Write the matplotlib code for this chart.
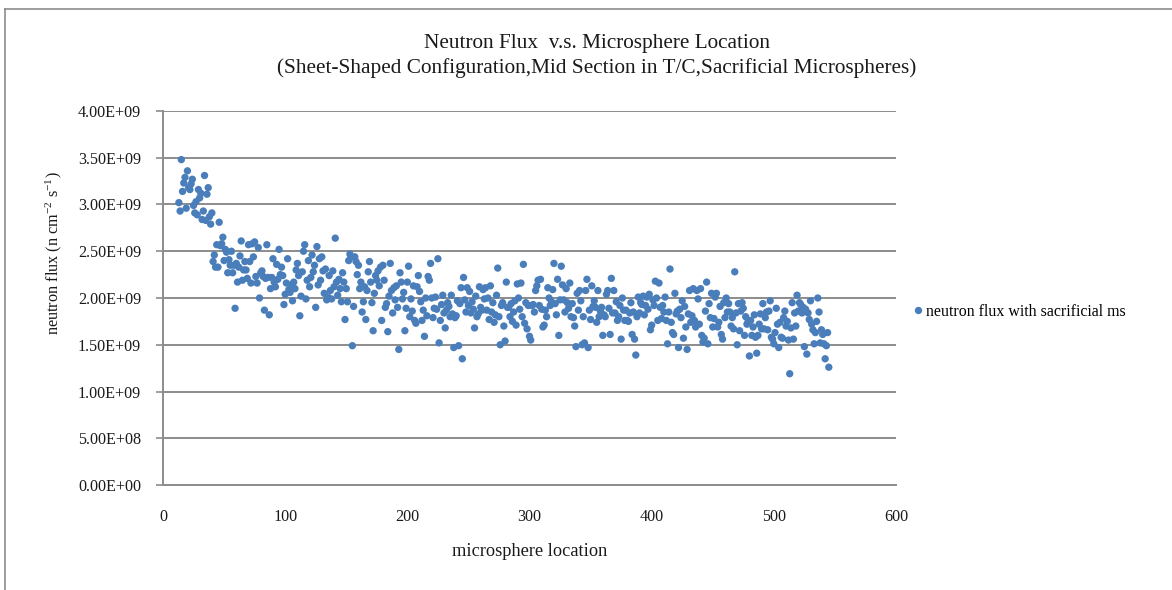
import matplotlib
matplotlib.use("Agg")
import matplotlib.pyplot as plt
from matplotlib.lines import Line2D
from matplotlib.ticker import FuncFormatter, MultipleLocator

plt.rcParams["font.family"] = ["Liberation Serif", "DejaVu Serif"]
plt.rcParams["mathtext.fontset"] = "custom"
plt.rcParams["mathtext.rm"] = "Liberation Serif"
plt.rcParams["mathtext.it"] = "Liberation Serif:italic"

# microsphere locations 13..545
first_location = 13

# neutron flux, in units of 1e9 n cm^-2 s^-1, one value per location
flux_e9 = [
    3.02, 2.93, 3.48, 3.14, 3.23, 3.29, 2.96, 3.36,                # 13-20
    3.18, 3.16, 3.22, 3.27, 2.99, 2.91, 3.03, 2.89, 3.16, 3.07,    # 21-30
    3.12, 2.84, 2.93, 3.31, 2.83, 3.11, 3.18, 2.87, 2.79, 2.91,    # 31-40
    2.39, 2.46, 2.33, 2.57, 2.33, 2.81, 2.56, 2.58, 2.65, 2.40,    # 41-50
    2.52, 2.49, 2.27, 2.41, 2.35, 2.50, 2.27, 2.35, 1.89, 2.37,    # 51-60
    2.17, 2.33, 2.45, 2.61, 2.19, 2.30, 2.39, 2.30, 2.21, 2.57,    # 61-70
    2.39, 2.16, 2.58, 2.44, 2.60, 2.23, 2.16, 2.54, 2.00, 2.27,    # 71-80
    2.29, 2.23, 1.87, 2.21, 2.57, 2.22, 1.82, 2.10, 2.22, 2.42,    # 81-90
    2.17, 2.12, 2.36, 2.20, 2.52, 2.25, 2.33, 2.24, 1.93, 2.04,    # 91-100
    2.16, 2.42, 2.09, 2.06, 2.14, 1.97, 2.17, 2.10, 2.30, 2.37,    # 101-110
    2.24, 1.81, 2.02, 2.28, 2.50, 2.57, 1.99, 2.19, 2.40, 2.12,    # 111-120
    2.22, 2.46, 2.28, 2.35, 1.90, 2.55, 2.14, 2.42, 2.19, 2.44,    # 121-130
    2.29, 2.05, 2.31, 1.98, 2.01, 2.24, 2.08, 1.99, 2.29, 2.12,    # 131-140
    2.64, 2.17, 2.03, 2.20, 2.10, 1.96, 2.27, 2.17, 1.77, 2.10,    # 141-150
    1.96, 2.40, 2.47, 2.44, 1.49, 1.91, 2.44, 2.39, 2.25, 2.35,    # 151-160
    2.10, 2.17, 1.85, 1.96, 2.12, 1.77, 2.08, 2.28, 2.39, 2.17,    # 161-170
    1.95, 1.65, 2.05, 2.24, 2.19, 2.29, 2.13, 2.33, 1.76, 2.35,    # 171-180
    2.19, 1.90, 1.94, 1.64, 2.02, 2.37, 2.08, 1.84, 2.11, 1.98,    # 181-190
    2.13, 1.90, 1.45, 2.27, 2.17, 1.99, 2.06, 1.65, 1.89, 2.17,    # 191-200
    2.34, 1.80, 1.99, 1.86, 2.13, 1.76, 1.73, 2.12, 2.24, 2.07,    # 201-210
    1.96, 1.76, 1.87, 1.59, 2.00, 1.81, 2.23, 2.19, 2.37, 2.00,    # 211-220
    1.79, 1.89, 2.01, 1.88, 2.42, 1.52, 1.76, 1.93, 2.03, 1.84,    # 221-230
    1.68, 1.87, 1.95, 1.91, 1.80, 2.03, 1.83, 1.47, 1.79, 1.81,    # 231-240
    1.97, 1.49, 1.94, 2.11, 1.35, 2.22, 1.98, 1.85, 2.11, 1.92,    # 241-250
    2.07, 1.84, 1.96, 1.88, 1.68, 2.02, 1.80, 1.83, 2.12, 1.90,    # 251-260
    1.87, 2.09, 1.99, 2.11, 1.87, 2.00, 1.77, 2.13, 1.85, 1.95,    # 261-270
    1.74, 1.82, 2.03, 2.32, 1.80, 1.50, 1.92, 1.95, 1.70, 1.54,    # 271-280
    2.17, 1.90, 1.90, 1.80, 1.94, 1.75, 1.85, 1.97, 1.71, 2.15,    # 281-290
    2.00, 1.88, 2.16, 1.80, 2.36, 1.73, 1.95, 1.67, 1.92, 1.59,    # 291-300
    1.55, 1.92, 1.93, 1.85, 2.08, 2.13, 2.19, 1.92, 2.20, 1.88,    # 301-310
    1.69, 1.71, 1.87, 1.80, 2.11, 2.00, 1.92, 1.96, 2.09, 2.37,    # 311-320
    1.94, 1.82, 2.20, 1.60, 1.98, 2.34, 2.14, 1.98, 1.85, 2.10,    # 321-330
    1.95, 1.89, 2.16, 1.80, 1.94, 1.79, 1.70, 1.48, 2.05, 1.87,    # 331-340
    2.08, 1.97, 1.50, 1.80, 1.52, 2.08, 2.20, 1.47, 1.87, 1.77,    # 341-350
    2.13, 1.91, 1.97, 1.90, 1.74, 2.08, 1.80, 1.86, 1.90, 1.60,    # 351-360
    1.82, 1.80, 2.04, 2.08, 1.89, 1.61, 2.21, 1.84, 2.08, 1.84,    # 361-370
    1.96, 1.76, 1.80, 1.92, 1.56, 2.00, 1.87, 1.76, 1.87, 1.76,    # 371-380
    1.75, 1.84, 1.95, 1.61, 1.85, 1.56, 1.39, 1.80, 2.01, 1.84,    # 381-390
    1.95, 1.93, 2.02, 1.82, 1.92, 2.01, 1.88, 2.04, 1.66, 1.71,    # 391-400
    1.98, 1.92, 2.18, 2.00, 1.76, 2.16, 1.90, 1.78, 1.92, 1.85,    # 401-410
    2.01, 1.76, 1.51, 1.85, 2.31, 1.74, 1.63, 1.61, 2.05, 1.83,    # 411-420
    1.86, 1.47, 1.88, 1.79, 1.97, 1.57, 1.91, 1.69, 1.45, 1.83,    # 421-430
    2.08, 1.74, 1.81, 2.10, 1.76, 1.69, 2.08, 1.99, 1.72, 2.10,    # 431-440
    1.60, 1.53, 1.57, 1.86, 2.17, 1.51, 1.94, 1.79, 2.05, 1.69,    # 441-450
    1.78, 2.01, 2.05, 1.69, 1.74, 1.91, 1.61, 1.56, 1.95, 1.79,    # 451-460
    2.00, 1.85, 1.94, 1.85, 1.70, 1.79, 1.67, 2.28, 1.84, 1.50,    # 461-470
    1.94, 1.65, 1.86, 1.95, 1.89, 1.60, 1.80, 1.72, 1.75, 1.38,    # 471-480
    1.76, 1.60, 1.69, 1.82, 1.58, 1.41, 1.60, 1.72, 1.83, 1.67,    # 481-490
    1.94, 1.67, 1.79, 1.85, 1.66, 1.86, 1.97, 1.58, 1.56, 1.51,    # 491-500
    1.63, 1.89, 1.72, 1.47, 1.74, 1.58, 1.57, 1.79, 1.86, 1.70,    # 501-510
    1.75, 1.55, 1.19, 1.68, 1.95, 1.56, 1.84, 1.70, 2.03, 1.86,    # 511-520
    1.95, 1.93, 1.84, 1.90, 1.48, 1.88, 1.40, 1.84, 1.77, 1.97,    # 521-530
    1.72, 1.66, 1.51, 1.63, 1.75, 2.00, 1.85, 1.52, 1.66, 1.61,    # 531-540
    1.51, 1.35, 1.49, 1.63, 1.26,                                  # 541-545
]

locations = list(range(first_location, first_location + len(flux_e9)))
flux = [v * 1e9 for v in flux_e9]

series_label = "neutron flux with sacrificial ms"
title_text = ("Neutron Flux  v.s. Microsphere Location\n"
              "(Sheet-Shaped Configuration,Mid Section in T/C,Sacrificial Microspheres)")
x_label = "microsphere location"
y_label = r"neutron flux (n cm$^{\mathrm{-2}}$ s$^{\mathrm{-1}}$)"

point_color = "#4a7ebb"
grid_color = "#8c8c8c"
text_color = "#1a1a1a"

W, H = 1172, 590
fig = plt.figure(figsize=(W / 100, H / 100), dpi=100)
ax = fig.add_axes([163 / W, 1 - 485 / H, 733 / W, 374 / H])

ax.scatter(locations, flux, s=28, color=point_color, edgecolors="none",
           zorder=3, label=series_label)

ax.set_xlim(0, 600)
ax.set_ylim(0, 4e9)
ax.xaxis.set_major_locator(MultipleLocator(100))
ax.yaxis.set_major_locator(MultipleLocator(5e8))
ax.yaxis.set_major_formatter(FuncFormatter(lambda v, p: f"{v:.2E}"))

ax.grid(axis="y", color=grid_color, linewidth=1.4, zorder=0)
ax.set_axisbelow(True)
for side in ("top", "right"):
    ax.spines[side].set_visible(False)
for side in ("left", "bottom"):
    ax.spines[side].set_color(grid_color)
    ax.spines[side].set_linewidth(1.4)

ax.tick_params(axis="y", length=5, width=1.2, color=grid_color, pad=10.8,
               labelsize=11.6, labelcolor=text_color)
ax.tick_params(axis="x", length=0, pad=17, labelsize=11.6, labelcolor=text_color)

# axis titles placed in figure pixels
fig.text(529.5 / W, 1 - 552 / H, x_label, ha="center", va="center",
         fontsize=13.2, color=text_color)
fig.text(54 / W, 1 - 253 / H, y_label, ha="center", va="center",
         rotation=90, fontsize=11.7, color=text_color)

fig.text(597 / W, 1 - 56 / H, title_text, ha="center", va="center",
         fontsize=15.3, linespacing=1.32, color=text_color)

handle = Line2D([], [], linestyle="none", marker="o", markersize=5.3,
                markerfacecolor=point_color, markeredgecolor="none")
fig.legend([handle], [series_label], loc="center left",
           bbox_to_anchor=(913 / W, 1 - 312 / H), frameon=False,
           handlelength=0.6, handletextpad=0.2, fontsize=11.4,
           borderaxespad=0, borderpad=0)

# chart-area border along the top and left edges
fig.add_artist(Line2D([5 / W, 5 / W], [0, 1 - 9 / H], transform=fig.transFigure,
                      color="#8c8c8c", linewidth=1.2))
fig.add_artist(Line2D([5 / W, 1], [1 - 9 / H, 1 - 9 / H], transform=fig.transFigure,
                      color="#8c8c8c", linewidth=1.2))

fig.savefig("out.png", dpi=100, facecolor="white")
